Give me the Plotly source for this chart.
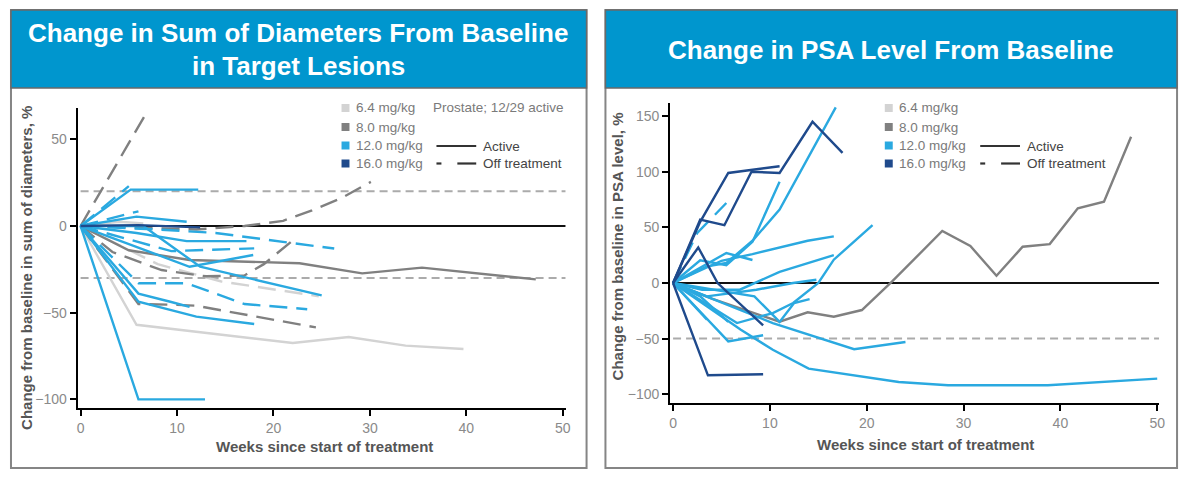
import plotly.graph_objects as go

# ---------------- DATA ----------------
WEEK_TICKS = [0, 10, 20, 30, 40, 50]
SOD_TICKS = [-100, -50, 0, 50]
PSA_TICKS = [-100, -50, 0, 50, 100, 150]
SOD_REF = [20, -30]
PSA_REF = [-50]

DOSE_LABELS = ["6.4 mg/kg", "8.0 mg/kg", "12.0 mg/kg", "16.0 mg/kg"]
DOSE_COLORS = ["#D3D3D3", "#808080", "#2AA9E0", "#1F4A8C"]

# Left panel: sum of diameters (weeks, % change)
SOD_64_ACTIVE = [
    ([0, 5.8, 22, 27.8, 33.7, 39.7], [0, -57, -67.5, -64, -69, -71]),
    ([0, 4, 6.5], [0, 2.5, 1.5]),
]
SOD_64_OFF = [
    ([0, 8, 14.6, 20.6, 24.7], [0, -22, -32, -37, -40.5]),
]
SOD_80_ACTIVE = [
    ([0, 5, 11.3, 22.7, 29.2, 35.4, 47.2], [0, -14, -19.6, -21.5, -27.3, -24, -30.8]),
]
SOD_80_OFF = [
    ([0, 6.9], [0, 66]),
    ([0, 12, 17, 21, 24, 27, 30.1], [0, -2, 0, 3, 9, 16, 25.5]),
    ([0, 3.3, 8.4, 13, 17, 19, 22.5], [0, -15, -25.4, -29, -28.5, -22, -6]),
    ([0, 6, 10, 12, 24.4], [0, -45, -45.5, -46, -58.5]),
]
SOD_120_ACTIVE = [
    ([0, 6, 12.9], [0, -100, -100]),
    ([0, 6, 9.3, 11.3], [0, -39, -43.7, -46.6]),
    ([0, 6, 12, 18], [0, -43.7, -52.3, -56.5]),
    ([0, 6.5, 12.4, 22.7, 25], [0, 0, -23.5, -37, -40]),
    ([0, 11.3, 17.9], [0, -23.5, -16.7]),
    ([0, 5.2, 12.2], [0, 21, 21]),
    ([0, 5.8, 11], [0, 5.4, 2.5]),
    ([0, 5.8, 11, 17.2], [0, -4, -8.7, -8.7]),
]
SOD_120_OFF = [
    ([0, 6, 11, 17, 23.5], [0, -33, -33, -45, -48]),
    ([0, 5], [0, 23]),
    ([0, 6], [0, 8.5]),
    ([0, 8, 14, 20, 26.3], [0, -2, -4, -8.5, -13]),
    ([0, 6, 9.4, 12, 18], [0, -9, -14.5, -14, -12.9]),
]
SOD_160_ACTIVE = [
    ([0, 6, 12.4], [0, 0.5, -0.8]),
]

# Right panel: PSA (weeks, % change)
PSA_80_ACTIVE = [
    ([0, 4, 8, 11, 13.9, 16.6, 19.5, 22.6, 27.8, 30.7, 33.4, 36.1, 38.9, 41.8, 44.5, 47.3],
     [0, -14, -26, -34.8, -26.3, -30.3, -24.3, 1.2, 46.8, 33.3, 6.6, 32.6, 35, 67.2, 73.1, 131.6]),
]
PSA_120_ACTIVE = [
    ([0, 7, 10.3, 14, 23.3, 28.4, 38.7, 50], [0, -42, -60, -77, -89, -92, -92, -86]),
    ([0, 10.3, 18.7, 24], [0, -36, -59.5, -53]),
    ([0, 5.7, 9.3], [0, -52.5, -47]),
    ([0, 3.5], [0, -33]),
    ([0, 8.4, 11, 12.5, 14.1], [0, -12, -35, -18, -14.5]),
    ([0, 6.6, 10.3, 12.4, 15, 16.6, 20.6], [0, -36, -27, -18, 0, 21, 52]),
    ([0, 3.5, 5.5, 8.2, 11, 14.4, 16.8], [0, 15, 18, 38, 66, 120, 158]),
    ([0, 2.8, 5.5, 8.2, 11], [0, 20.5, 16, 37, 91]),
    ([0, 5, 8.2, 13.9, 16.6], [0, 20, 26, 38, 42]),
    ([0, 5.5, 8.2], [0, 27, 20.7]),
    ([0, 3, 6.9, 11, 16.6], [0, -6, -6, 10, 25]),
    ([0, 3.5, 8.6, 12.4, 14.8], [0, -12, -6, 0, 3]),
    ([0, 2.8, 5.7], [0, -12, -35]),
]
PSA_120_OFF = [
    ([0, 2.5, 5.5], [0, 45, 72]),
]
PSA_160_ACTIVE = [
    ([0, 2.8, 5.3, 8.1, 11, 14.4, 17.5], [0, 57, 52, 100, 99, 145, 117]),
    ([0, 2.8, 5.7, 8.1, 11], [0, 55, 99, 101.6, 105]),
    ([0, 2.6, 4.6, 9.3], [0, 32, 0, -38]),
    ([0, 3.6, 9.3], [0, -83, -82]),
]

# ---------------- FIGURE ----------------
# The page body has an 8px margin, so the figure is sized to fit inside it.
OFF = 8
W, H = 1200 - 2 * OFF, 479 - 2 * OFF
FONT = "Liberation Sans, Arial, Helvetica, sans-serif"
BLUE_HDR = "#0096CE"
DASH = "18px,9px"


def PX(x):
    return (x - OFF) / W


def PY(y):
    return 1 - (y - OFF) / H


fig = go.Figure()


def add_lines(lines, color, dash, xa, ya):
    for w, v in lines:
        fig.add_trace(go.Scatter(
            x=w, y=v, mode="lines", xaxis=xa, yaxis=ya,
            line=dict(color=color, width=2.4, dash=dash),
            showlegend=False, hoverinfo="skip"))


# left
add_lines(SOD_64_ACTIVE, DOSE_COLORS[0], "solid", "x", "y")
add_lines(SOD_64_OFF, DOSE_COLORS[0], DASH, "x", "y")
add_lines(SOD_80_ACTIVE, DOSE_COLORS[1], "solid", "x", "y")
add_lines(SOD_80_OFF, DOSE_COLORS[1], DASH, "x", "y")
add_lines(SOD_120_ACTIVE, DOSE_COLORS[2], "solid", "x", "y")
add_lines(SOD_120_OFF, DOSE_COLORS[2], DASH, "x", "y")
add_lines(SOD_160_ACTIVE, DOSE_COLORS[3], "solid", "x", "y")
# right
add_lines(PSA_80_ACTIVE, DOSE_COLORS[1], "solid", "x2", "y2")
add_lines(PSA_120_ACTIVE, DOSE_COLORS[2], "solid", "x2", "y2")
add_lines(PSA_120_OFF, DOSE_COLORS[2], DASH, "x2", "y2")
add_lines(PSA_160_ACTIVE, DOSE_COLORS[3], "solid", "x2", "y2")

shapes = []
annotations = []

# reference lines
for v in SOD_REF:
    shapes.append(dict(type="line", xref="x", yref="y", x0=0, x1=50.3, y0=v, y1=v,
                       line=dict(color="#ABABAB", width=2, dash="8px,5px"), layer="below"))
shapes.append(dict(type="line", xref="x", yref="y", x0=0, x1=50.3, y0=0, y1=0,
                   line=dict(color="#111111", width=2), layer="below"))
for v in PSA_REF:
    shapes.append(dict(type="line", xref="x2", yref="y2", x0=0, x1=50.2, y0=v, y1=v,
                       line=dict(color="#ABABAB", width=2, dash="8px,5px"), layer="below"))
shapes.append(dict(type="line", xref="x2", yref="y2", x0=0, x1=50.2, y0=0, y1=0,
                   line=dict(color="#111111", width=2), layer="below"))

# panels: frame + header
for (x0, x1) in [(10, 589), (608, 1183)]:
    shapes.append(dict(type="rect", xref="paper", yref="paper",
                       x0=PX(x0), x1=PX(x1), y0=PY(468), y1=PY(10),
                       line=dict(color="#858585", width=2), fillcolor="rgba(0,0,0,0)"))
    shapes.append(dict(type="rect", xref="paper", yref="paper",
                       x0=PX(x0), x1=PX(x1), y0=PY(88), y1=PY(10),
                       line=dict(color="#6A6A6A", width=1.5), fillcolor=BLUE_HDR))


def ann(x, y, text, size, color, xanchor="center", angle=0, bold=False):
    annotations.append(dict(
        xref="paper", yref="paper", x=PX(x), y=PY(y), text=("<b>%s</b>" % text) if bold else text,
        showarrow=False, xanchor=xanchor, yanchor="middle", textangle=angle,
        font=dict(family=FONT, size=size, color=color)))


# titles
ann(299, 33, "Change in Sum of Diameters From Baseline", 26, "white", bold=True)
ann(299, 66, "in Target Lesions", 26, "white", bold=True)
ann(895, 50, "Change in PSA Level From Baseline", 26, "white", bold=True)

# axis titles
ann(325, 446, "Weeks since start of treatment", 15, "#555555", bold=True)
ann(930, 444, "Weeks since start of treatment", 15, "#555555", bold=True)
ann(25, 268, "Change from baseline in sum of diameters, %", 15, "#555555", angle=-90, bold=True)
ann(620, 246, "Change from baseline in PSA level, %", 15, "#555555", angle=-90, bold=True)

# legends
LEG_Y = [108, 127, 145.5, 163.5]
for sq_x, line_x0, note in [(346.5, 438, "Prostate; 12/29 active"), (893, 985, None)]:
    for lab, col, y in zip(DOSE_LABELS, DOSE_COLORS, LEG_Y):
        shapes.append(dict(type="rect", xref="paper", yref="paper",
                           x0=PX(sq_x - 4), x1=PX(sq_x + 4), y0=PY(y + 4), y1=PY(y - 4),
                           line=dict(width=0), fillcolor=col))
        ann(sq_x + 8.5, y, lab, 13.5, "#7A7A7A", xanchor="left")
    if note:
        ann(433, LEG_Y[0], note, 13.5, "#7A7A7A", xanchor="left")
    # Active sample
    shapes.append(dict(type="line", xref="paper", yref="paper",
                       x0=PX(line_x0), x1=PX(line_x0 + 40), y0=PY(146), y1=PY(146),
                       line=dict(color="#333333", width=2.2)))
    ann(line_x0 + 45, 146, "Active", 13.5, "#444444", xanchor="left")
    # Off treatment sample
    shapes.append(dict(type="line", xref="paper", yref="paper",
                       x0=PX(line_x0), x1=PX(line_x0 + 5), y0=PY(163.5), y1=PY(163.5),
                       line=dict(color="#333333", width=2.2)))
    shapes.append(dict(type="line", xref="paper", yref="paper",
                       x0=PX(line_x0 + 21), x1=PX(line_x0 + 40), y0=PY(163.5), y1=PY(163.5),
                       line=dict(color="#333333", width=2.2)))
    ann(line_x0 + 45, 163.5, "Off treatment", 13.5, "#444444", xanchor="left")

axis_common = dict(showline=True, linecolor="black", linewidth=2, ticks="outside",
                   ticklen=6, tickwidth=2, tickcolor="black", showgrid=False, zeroline=False,
                   tickfont=dict(family=FONT, size=14, color="#8A8A8A"), fixedrange=True)

fig.update_layout(
    width=W, height=H,
    margin=dict(l=0, r=0, t=0, b=0),
    paper_bgcolor="white", plot_bgcolor="white",
    showlegend=False,
    xaxis=dict(domain=[PX(77), PX(568)], range=[-0.31, 50.3], tickvals=WEEK_TICKS,
               anchor="y", **axis_common),
    yaxis=dict(domain=[PY(408), PY(108)], range=[-105, 68.1], tickvals=SOD_TICKS,
               anchor="x", **axis_common),
    xaxis2=dict(domain=[PX(673), PX(1165)], range=[-0.31, 50.2], tickvals=WEEK_TICKS,
                anchor="y2", **axis_common),
    yaxis2=dict(domain=[PY(403), PY(103)], range=[-107.9, 161.9], tickvals=PSA_TICKS,
                anchor="x2", **axis_common),
    shapes=shapes,
    annotations=annotations,
)

fig.write_html("out.html")
